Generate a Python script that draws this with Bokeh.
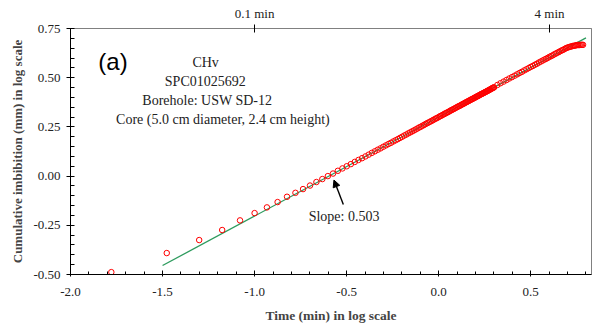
import numpy as np
from bokeh.plotting import figure
from bokeh.models import (Range1d, LinearAxis, SingleIntervalTicker, FixedTicker,
                          CustomJSTickFormatter, Label, Arrow, NormalHead, NumeralTickFormatter)
from bokeh.embed import file_html
from bokeh.resources import INLINE

# ---- data ----
time_s = [1, 2, 3, 4, 5, 6, 7, 8, 9, 10, 11, 12, 13, 14, 15, 16, 17, 18, 19, 20,
          21, 22, 23, 24, 25, 26, 27, 28, 29, 30, 31, 32, 33, 34, 35, 36, 37, 38, 39, 40,
          41, 42, 43, 44, 45, 46, 47, 48, 49, 50, 51, 52, 53, 54, 55, 56, 57, 58, 59, 60,
          61, 62, 63, 64, 65, 66, 67, 68, 69, 70, 71, 72, 73, 74, 75, 76, 77, 78, 79, 80,
          81, 82, 83, 84, 85, 86, 87, 88, 89, 90, 91, 92, 93, 94, 95, 96, 97, 98, 99, 100,
          101, 102, 103, 104, 105, 106, 107, 108, 109, 110, 111, 112, 113, 114, 115, 116,
          117, 118, 119, 120,
          125, 130, 135, 140, 145, 150, 155, 160, 165, 170, 175, 180, 185, 190, 195, 200,
          205, 210, 215, 220, 225, 230, 235, 240, 245, 250, 255, 260, 265, 270, 275, 280,
          285, 290, 295, 300, 305, 310, 315, 320, 325, 330, 335, 340, 345, 350, 355, 360, 365]

log_imbibition = [-0.488, -0.391, -0.325, -0.274, -0.225, -0.188, -0.159, -0.132, -0.105, -0.085,
                  -0.066, -0.048, -0.030, -0.015, 0.000, 0.013, 0.027, 0.039, 0.050, 0.061,
                  0.072, 0.082, 0.091, 0.100, 0.109, 0.118, 0.126, 0.134, 0.141, 0.149,
                  0.156, 0.163, 0.169, 0.176, 0.182, 0.188, 0.194, 0.200, 0.206, 0.211,
                  0.217, 0.222, 0.227, 0.232, 0.237, 0.242, 0.247, 0.251, 0.256, 0.260,
                  0.265, 0.269, 0.273, 0.277, 0.281, 0.285, 0.289, 0.293, 0.296, 0.300,
                  0.304, 0.307, 0.311, 0.314, 0.318, 0.321, 0.324, 0.327, 0.331, 0.334,
                  0.337, 0.340, 0.343, 0.346, 0.349, 0.352, 0.355, 0.357, 0.360, 0.363,
                  0.366, 0.368, 0.371, 0.374, 0.376, 0.379, 0.381, 0.384, 0.386, 0.389,
                  0.391, 0.393, 0.396, 0.398, 0.400, 0.403, 0.405, 0.407, 0.409, 0.412,
                  0.414, 0.416, 0.418, 0.420, 0.422, 0.424, 0.426, 0.428, 0.430, 0.432,
                  0.434, 0.436, 0.438, 0.440, 0.442, 0.444, 0.446, 0.448, 0.450, 0.451,
                  0.463, 0.472, 0.480, 0.488, 0.496, 0.503, 0.510, 0.517, 0.524, 0.530,
                  0.537, 0.543, 0.549, 0.555, 0.560, 0.566, 0.571, 0.577, 0.582, 0.587,
                  0.592, 0.596, 0.601, 0.606, 0.610, 0.614, 0.619, 0.623, 0.627, 0.631,
                  0.635, 0.639, 0.642, 0.646, 0.650, 0.653, 0.655, 0.657, 0.659, 0.661,
                  0.662, 0.663, 0.665, 0.666, 0.666, 0.666, 0.667, 0.667, 0.667]

fit_slope = 0.503
fit_intercept = 0.30
fit_x_span = [-1.5, 0.8]

top_tick_minutes = [0.1, 4.0]
top_tick_labels = ["0.1 min", "4 min"]

info_lines = ["CHv", "SPC01025692", "Borehole: USW SD-12", "Core (5.0 cm diameter, 2.4 cm height)"]
slope_text = "Slope: 0.503"

# ---- derived ----
log_time_min = np.log10(np.array(time_s, dtype=float) / 60.0)
fit_x = np.array(fit_x_span)
fit_y = fit_intercept + fit_slope * fit_x
top_ticks = [float(np.log10(m)) for m in top_tick_minutes]

SERIF = "Liberation Serif"

p = figure(width=598, height=325, output_backend="svg", toolbar_location=None,
           x_range=Range1d(-2.0, 0.83), y_range=Range1d(-0.5, 0.75),
           min_border_left=70, min_border_right=7, min_border_top=28, min_border_bottom=51,
           x_axis_label="Time (min) in log scale",
           y_axis_label="Cumulative imbibition (mm) in log scale")
p.grid.visible = False
p.outline_line_color = "#808080"
p.outline_line_width = 1
p.background_fill_color = "white"
p.border_fill_color = "white"

xa = p.xaxis[0]
xa.ticker = SingleIntervalTicker(interval=0.5, num_minor_ticks=5)
xa.formatter = NumeralTickFormatter(format="0.0")
xa.major_tick_in = 4
xa.major_tick_out = 2
xa.minor_tick_in = 3
xa.minor_tick_out = 0
xa.axis_line_color = "black"
xa.major_label_text_font = SERIF
xa.major_label_text_font_size = "13px"
xa.major_label_text_color = "#222222"
xa.major_label_standoff = 11
xa.axis_label_text_font = SERIF
xa.axis_label_text_font_size = "13.5px"
xa.axis_label_text_font_style = "bold"
xa.axis_label_standoff = 9

ya = p.yaxis[0]
ya.ticker = SingleIntervalTicker(interval=0.25, num_minor_ticks=5)
ya.formatter = NumeralTickFormatter(format="0.00")
ya.major_tick_in = 3
ya.major_tick_out = 4
ya.minor_tick_in = 4
ya.minor_tick_out = 0
ya.axis_line_color = "black"
ya.major_label_text_font = SERIF
ya.major_label_text_font_size = "13px"
ya.major_label_text_color = "#222222"
ya.major_label_standoff = 6
ya.axis_label_text_font = SERIF
ya.axis_label_text_font_size = "13px"
ya.axis_label_text_font_style = "bold"
ya.axis_label_standoff = 5

top = LinearAxis(
    ticker=FixedTicker(ticks=top_ticks, minor_ticks=[]),
    formatter=CustomJSTickFormatter(
        args=dict(tvals=top_ticks, labels=top_tick_labels),
        code="""let k = 0; let d = 1e9;
for (let i = 0; i < tvals.length; i++) { const e = Math.abs(tvals[i] - tick); if (e < d) { d = e; k = i; } }
return labels[k];"""),
    axis_line_color="#808080", major_tick_in=4, major_tick_out=4,
    minor_tick_in=0, minor_tick_out=0,
    major_label_text_font=SERIF, major_label_text_font_size="13px",
    major_label_text_color="#222222", major_label_standoff=4)
p.add_layout(top, "above")

# fitted line
p.line(fit_x, fit_y, line_color="#2e9b5e", line_width=1.3)

# data
p.scatter(log_time_min, log_imbibition, marker="circle", size=5.5,
          fill_color=None, line_color="#ff0000", line_width=1)

# annotations
p.add_layout(Label(x=-1.769, y=0.583, text="(a)", text_font="Liberation Sans",
                   text_font_size="24px", text_align="center", text_baseline="middle",
                   text_color="black"))
info_x = [-1.266, -1.268, -1.257, -1.172]
info_y = [0.578, 0.481, 0.385, 0.288]
for t, xx, yy in zip(info_lines, info_x, info_y):
    p.add_layout(Label(x=xx, y=yy, text=t, text_font=SERIF, text_font_size="14px",
                       text_align="center", text_baseline="middle", text_color="#222222"))

p.add_layout(Arrow(end=NormalHead(size=7, fill_color="black", line_color="black"),
                   x_start=-0.518, y_start=-0.144, x_end=-0.569, y_end=-0.020,
                   line_width=1.4, line_color="black"))
p.add_layout(Label(x=-0.514, y=-0.205, text=slope_text, text_font=SERIF, text_font_size="14px",
                   text_align="center", text_baseline="middle", text_color="#222222"))

open("out.html", "w").write(file_html(p, INLINE))
